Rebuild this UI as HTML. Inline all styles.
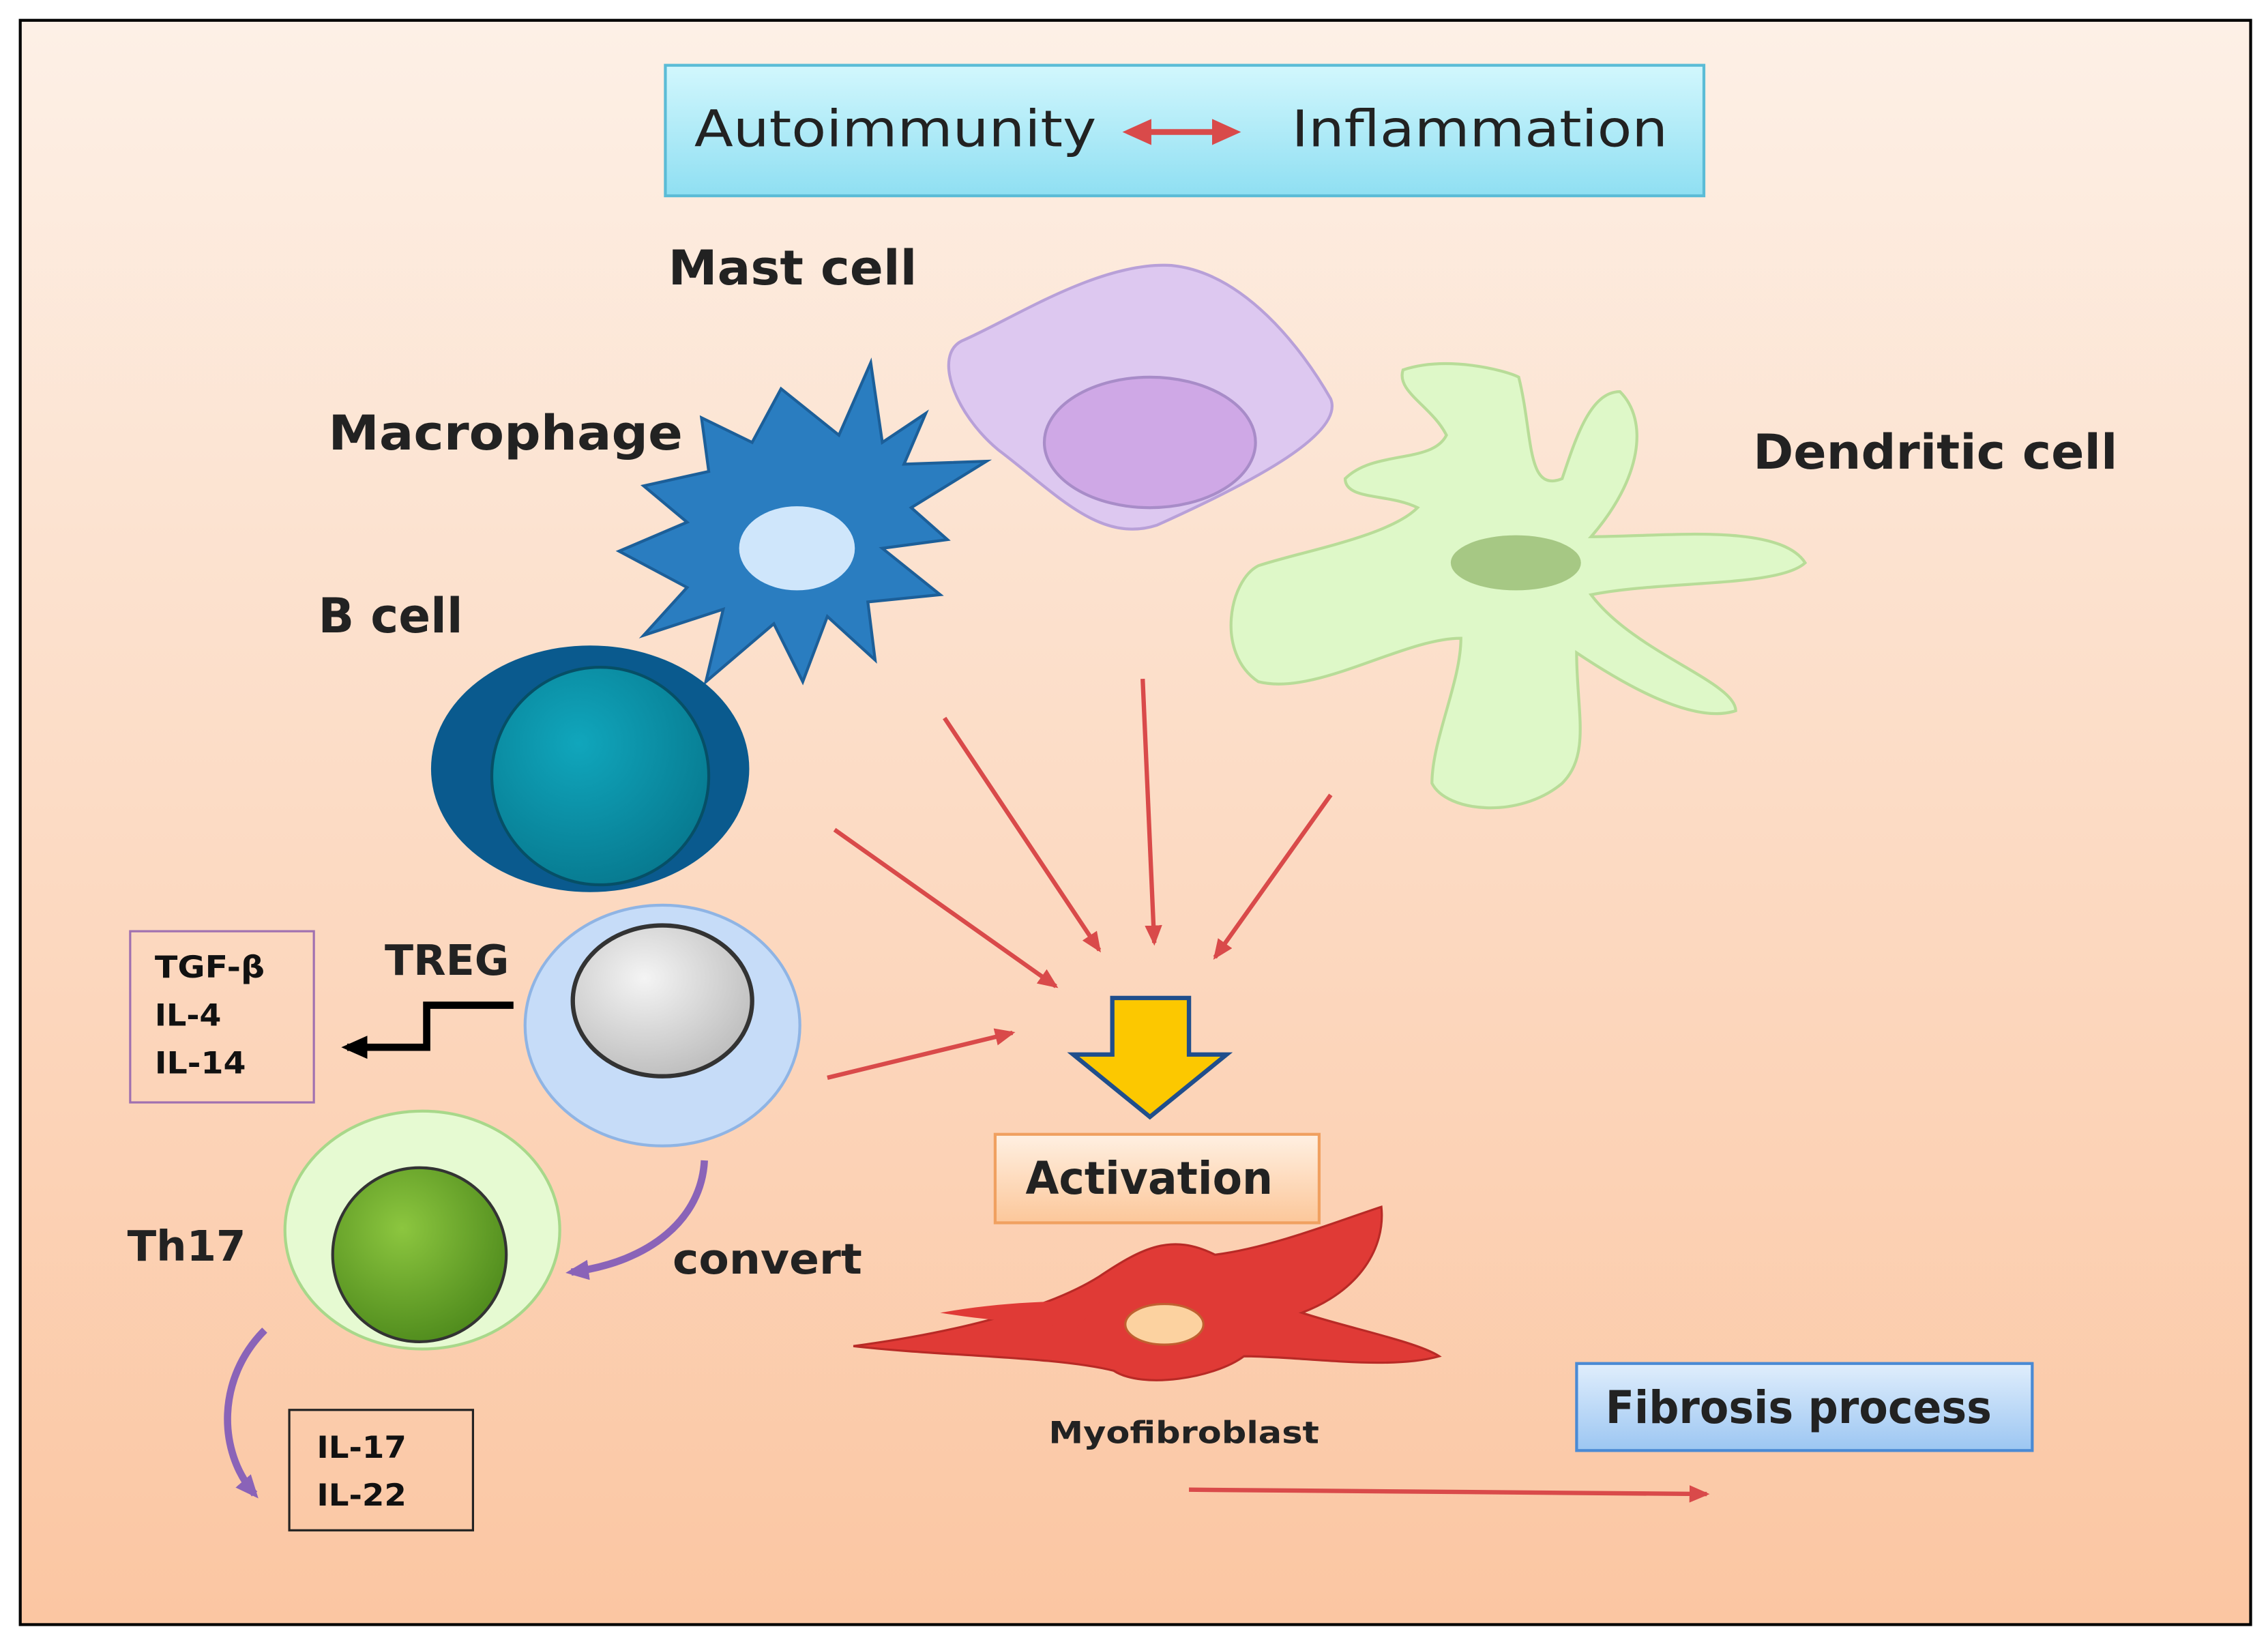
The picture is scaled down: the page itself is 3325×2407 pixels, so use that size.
<!DOCTYPE html>
<html><head><meta charset="utf-8"><style>
html,body{margin:0;padding:0;background:#fff;}
svg{display:block;}
text{font-family:"DejaVu Sans","Liberation Sans",sans-serif;}
</style></head><body>
<svg width="3325" height="2407" viewBox="0 0 1568 1132" preserveAspectRatio="none" xmlns="http://www.w3.org/2000/svg">
<defs>
<linearGradient id="bg" x1="0" y1="0" x2="0" y2="1"><stop offset="0" stop-color="#fdf0e6"/><stop offset="1" stop-color="#fbc6a2"/></linearGradient>
<linearGradient id="cy" x1="0" y1="0" x2="0" y2="1"><stop offset="0" stop-color="#d2f7fd"/><stop offset="1" stop-color="#8fdff2"/></linearGradient>
<linearGradient id="or" x1="0" y1="0" x2="0" y2="1"><stop offset="0" stop-color="#fff0e2"/><stop offset="1" stop-color="#fcc79a"/></linearGradient>
<linearGradient id="bl" x1="0" y1="0" x2="0" y2="1"><stop offset="0" stop-color="#e0eefc"/><stop offset="1" stop-color="#9cc6f2"/></linearGradient>
<radialGradient id="gr" cx="0.4" cy="0.35" r="0.7"><stop offset="0" stop-color="#8cc63f"/><stop offset="1" stop-color="#4e8a1c"/></radialGradient>
<radialGradient id="gy" cx="0.4" cy="0.35" r="0.7"><stop offset="0" stop-color="#f4f4f4"/><stop offset="1" stop-color="#bcbcbc"/></radialGradient>
<radialGradient id="tl" cx="0.4" cy="0.35" r="0.7"><stop offset="0" stop-color="#10a6bc"/><stop offset="1" stop-color="#07798f"/></radialGradient>
<marker id="arr" markerWidth="14" markerHeight="12" refX="12" refY="6" orient="auto" markerUnits="userSpaceOnUse"><path d="M0,0 L14,6 L0,12z" fill="#d94a4a"/></marker>
<marker id="ap" markerWidth="16" markerHeight="14" refX="12" refY="7" orient="auto" markerUnits="userSpaceOnUse"><path d="M0,0 L16,7 L0,14z" fill="#8a63b8"/></marker>
<marker id="ab" markerWidth="18" markerHeight="16" refX="14" refY="8" orient="auto" markerUnits="userSpaceOnUse"><path d="M0,0 L18,8 L0,16z" fill="#000"/></marker>
</defs>
<rect x="14" y="14" width="1542" height="1106" fill="url(#bg)" stroke="#000" stroke-width="2"/>

<rect x="460" y="45" width="718" height="90" fill="url(#cy)" stroke="#5bbcd6" stroke-width="2"/>
<text x="480" y="101" font-size="35" fill="#222" textLength="278" lengthAdjust="spacingAndGlyphs">Autoimmunity</text>
<text x="893" y="101" font-size="35" fill="#222" textLength="260" lengthAdjust="spacingAndGlyphs">Inflammation</text>
<line x1="790" y1="91" x2="845" y2="91" stroke="#d94a4a" stroke-width="4"/>
<path d="M776,91 L796,82 L796,100z M858,91 L838,82 L838,100z" fill="#d94a4a"/>

<path d="M665,235 C700,220 760,180 810,183 C860,188 900,240 920,275 C930,300 860,335 800,362 C760,375 730,340 690,310 C660,285 645,245 665,235z" fill="#ddc8f0" stroke="#b8a0d8" stroke-width="2"/>
<ellipse cx="795" cy="305" rx="73" ry="45" fill="#cfa8e6" stroke="#a88cc8" stroke-width="2"/>

<path d="M970,255 C1000,245 1040,255 1050,260 C1060,300 1055,340 1080,330 C1090,300 1100,270 1120,270 C1140,290 1135,330 1100,370 C1150,370 1230,360 1248,388 C1230,405 1150,400 1100,410 C1130,450 1200,470 1200,490 C1170,500 1120,470 1090,450 C1090,490 1100,520 1080,540 C1050,565 1000,560 990,540 C990,510 1010,470 1010,440 C970,440 910,480 870,470 C840,450 850,400 870,390 C900,380 960,370 980,350 C960,340 930,345 930,330 C950,310 990,320 1000,300 C990,280 965,270 970,255z" fill="#def8c8" stroke="#b8dc98" stroke-width="2"/>
<ellipse cx="1048" cy="388" rx="45" ry="19" fill="#a6c884"/>

<path d="M540,268 L580,300 L602,250 L610,305 L640,285 L625,320 L682,318 L630,350 L655,372 L610,378 L650,410 L600,415 L605,455 L572,425 L555,470 L535,430 L488,470 L500,420 L445,438 L475,405 L428,380 L475,360 L445,335 L490,325 L485,288 L520,305z" fill="#2a7dc0" stroke="#1c5f99" stroke-width="2"/>
<ellipse cx="551" cy="378" rx="40" ry="29" fill="#cfe6fb"/>

<ellipse cx="408" cy="530" rx="110" ry="85" fill="#0a5a8e"/>
<circle cx="415" cy="535" r="75" fill="url(#tl)" stroke="#064f66" stroke-width="2"/>

<ellipse cx="458" cy="707" rx="95" ry="83" fill="#c6dcf8" stroke="#8fb4e4" stroke-width="2"/>
<ellipse cx="458" cy="690" rx="62" ry="52" fill="url(#gy)" stroke="#333" stroke-width="3"/>

<ellipse cx="292" cy="848" rx="95" ry="82" fill="#e6fad2" stroke="#a8d88a" stroke-width="2"/>
<circle cx="290" cy="865" r="60" fill="url(#gr)" stroke="#333" stroke-width="2"/>

<g font-weight="bold" fill="#222" lengthAdjust="spacingAndGlyphs">
<text x="462" y="196" font-size="33" textLength="172" lengthAdjust="spacingAndGlyphs">Mast cell</text>
<text x="227" y="310" font-size="33" textLength="245" lengthAdjust="spacingAndGlyphs">Macrophage</text>
<text x="220" y="436" font-size="33" textLength="100" lengthAdjust="spacingAndGlyphs">B cell</text>
<text x="1212" y="323" font-size="33" textLength="252" lengthAdjust="spacingAndGlyphs">Dendritic cell</text>
<text x="266" y="672" font-size="29" textLength="86" lengthAdjust="spacingAndGlyphs">TREG</text>
<text x="88" y="869" font-size="29" textLength="82" lengthAdjust="spacingAndGlyphs">Th17</text>
<text x="465" y="878" font-size="29" textLength="131" lengthAdjust="spacingAndGlyphs">convert</text>
<text x="725" y="995" font-size="21" textLength="187" lengthAdjust="spacingAndGlyphs">Myofibroblast</text>
</g>

<rect x="90" y="642" width="127" height="118" fill="none" stroke="#a070b0" stroke-width="1.5"/>
<g font-weight="bold" font-size="21" fill="#111">
<text x="107" y="674" textLength="76" lengthAdjust="spacingAndGlyphs">TGF-β</text><text x="107" y="707" textLength="46" lengthAdjust="spacingAndGlyphs">IL-4</text><text x="107" y="740" textLength="63" lengthAdjust="spacingAndGlyphs">IL-14</text>
</g>
<polyline points="355,693 295,693 295,722 240,722" fill="none" stroke="#000" stroke-width="5" marker-end="url(#ab)"/>

<rect x="200" y="972" width="127" height="83" fill="none" stroke="#222" stroke-width="1.5"/>
<g font-weight="bold" font-size="21" fill="#111"><text x="219" y="1005" textLength="62" lengthAdjust="spacingAndGlyphs">IL-17</text><text x="219" y="1038" textLength="62" lengthAdjust="spacingAndGlyphs">IL-22</text></g>

<path d="M487,800 C485,840 450,870 395,877" fill="none" stroke="#8a63b8" stroke-width="5" marker-end="url(#ap)"/>
<path d="M183,917 C150,950 150,1000 176,1030" fill="none" stroke="#8a63b8" stroke-width="5" marker-end="url(#ap)"/>

<g stroke="#d94a4a" stroke-width="3" marker-end="url(#arr)">
<line x1="577" y1="572" x2="730" y2="680"/>
<line x1="653" y1="495" x2="760" y2="655"/>
<line x1="790" y1="468" x2="798" y2="650"/>
<line x1="920" y1="548" x2="840" y2="660"/>
<line x1="572" y1="743" x2="700" y2="712"/>
<line x1="822" y1="1027" x2="1180" y2="1030"/>
</g>

<path d="M769,688 L822,688 L822,727 L848,727 L795,770 L742,727 L769,727z" fill="#fcc800" stroke="#1f4e8c" stroke-width="3"/>

<rect x="688" y="782" width="224" height="61" fill="url(#or)" stroke="#f0a060" stroke-width="2"/>
<text x="709" y="823" font-size="31" font-weight="bold" fill="#222" textLength="171" lengthAdjust="spacingAndGlyphs">Activation</text>

<path d="M590,928 C650,920 720,905 760,880 C790,860 810,850 840,865 C880,860 930,840 955,832 C958,860 940,890 900,905 C930,915 980,925 995,935 C960,945 900,935 860,935 C840,950 790,958 770,945 C730,935 650,935 590,928z" fill="#e03a36" stroke="#b82a26" stroke-width="1.5"/>
<path d="M650,905 C690,898 730,896 760,898 L745,915 C710,912 680,910 650,905z" fill="#e03a36"/>
<ellipse cx="805" cy="913" rx="27" ry="14" fill="#fcd2a0" stroke="#c06030" stroke-width="1.5"/>

<rect x="1090" y="940" width="315" height="60" fill="url(#bl)" stroke="#4a8ad4" stroke-width="2"/>
<text x="1110" y="981" font-size="31" font-weight="bold" fill="#222" textLength="267" lengthAdjust="spacingAndGlyphs">Fibrosis process</text>
</svg>
</body></html>
